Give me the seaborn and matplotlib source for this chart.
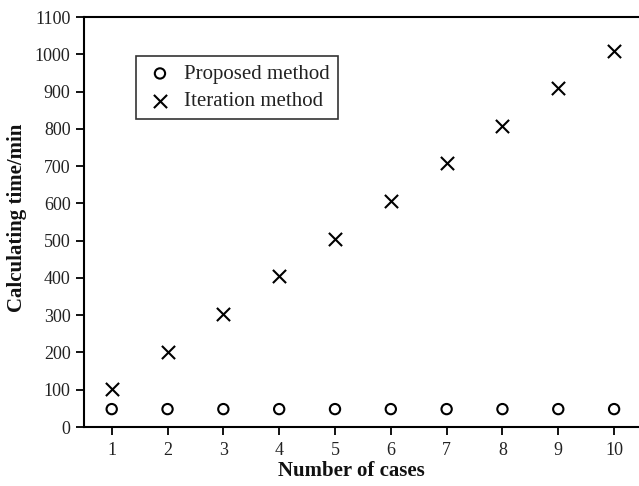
import matplotlib
matplotlib.use("Agg")
import matplotlib.pyplot as plt
import seaborn as sns
import pandas as pd

cases = [1, 2, 3, 4, 5, 6, 7, 8, 9, 10]
proposed = [48, 48, 48, 48, 48, 48, 48, 48, 48, 48]
iteration = [101, 202, 303, 404, 505, 606, 707, 808, 909, 1010]
yticks = [0, 100, 200, 300, 400, 500, 600, 700, 800, 900, 1000, 1100]

sns.set_style("ticks")
plt.rcParams['font.family'] = ['Liberation Serif', 'DejaVu Serif']
plt.rcParams['text.color'] = 'black'
plt.rcParams['axes.labelcolor'] = 'black'

df_p = pd.DataFrame({"cases": cases, "time": proposed})
df_i = pd.DataFrame({"cases": cases, "time": iteration})

W, H = 639, 486
fig = plt.figure(figsize=(W / 100, H / 100), dpi=100)
left, right, top, bottom = 83.8, 642.0, 17.0, 427.0
ax = fig.add_axes([left / W, 1 - bottom / H, (right - left) / W, (bottom - top) / H])

sns.scatterplot(data=df_p, x="cases", y="time", ax=ax, marker="o", s=55,
                facecolors="none", edgecolors="black", linewidths=1.5,
                label="Proposed method", zorder=3)
sns.scatterplot(data=df_i, x="cases", y="time", ax=ax, marker="x", s=90,
                color="black", linewidths=1.5, label="Iteration method", zorder=3)

ax.set_xlim(0.5, 10.5)
ax.set_ylim(0, 1100)
ax.set_xticks(cases)
ax.set_yticks(yticks)
ax.tick_params(axis="both", direction="out", length=6, width=1.3, labelsize=13,
               colors="black", labelcolor="#222222")
ax.tick_params(axis="x", pad=5)
for side in ["left", "bottom", "top"]:
    ax.spines[side].set_linewidth(1.5)
    ax.spines[side].set_color("black")
ax.spines["right"].set_visible(False)

ax.set_xlabel("Number of cases", fontsize=15, fontweight="bold", color="#111111")
ax.set_ylabel("Calculating time/min", fontsize=15, fontweight="bold", color="#111111")
ax.xaxis.set_label_coords((351 - left) / (right - left), (bottom - 461) / (bottom - top))
ax.yaxis.set_label_coords((27 - left) / (right - left), (bottom - 218) / (bottom - top))

leg = ax.legend(loc="upper left", bbox_to_anchor=((136 - left) / (right - left), (bottom - 56) / (bottom - top)),
                fontsize=15, frameon=True, fancybox=False, edgecolor="black",
                borderpad=0.4, handletextpad=0.4, labelspacing=0.36, handlelength=1.5, borderaxespad=0)
leg.get_frame().set_linewidth(1.2)
for t in leg.get_texts():
    t.set_color("#222222")

fig.savefig("out.png", dpi=100)
